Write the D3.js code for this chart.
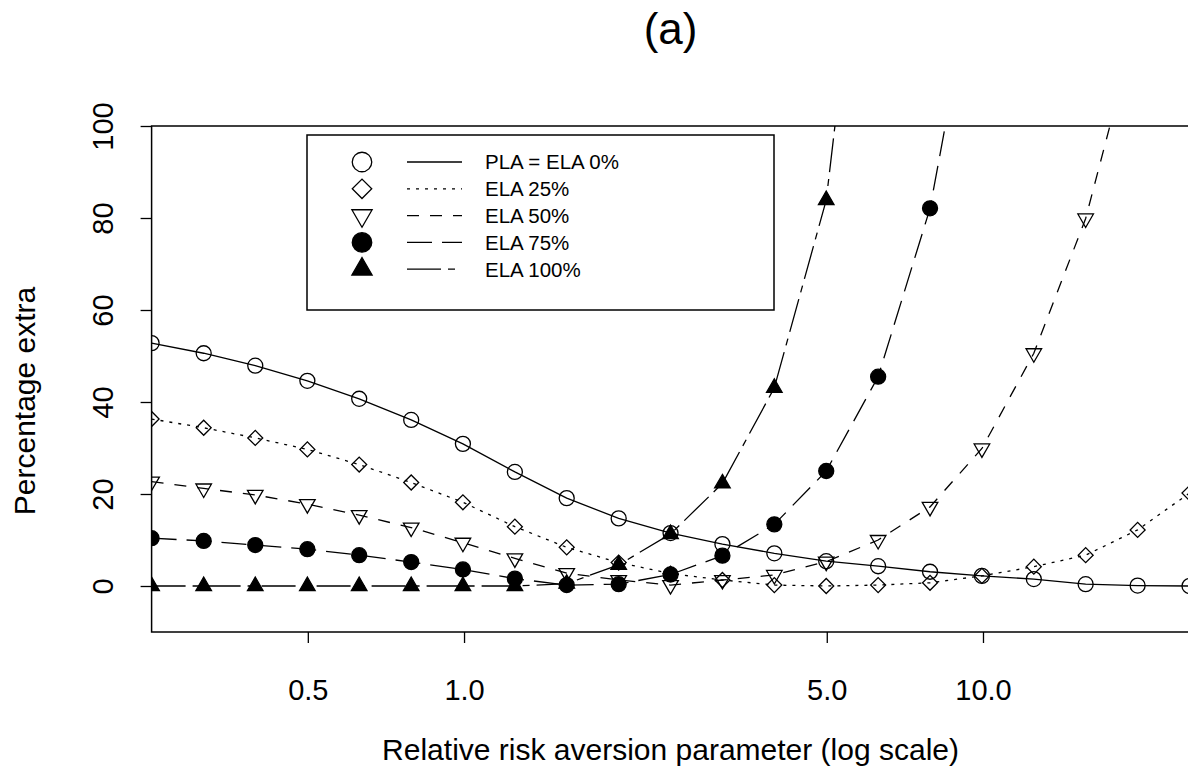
<!DOCTYPE html>
<html>
<head>
<meta charset="utf-8">
<script src="https://cdn.jsdelivr.net/npm/d3@7"></script>
<style>
  body { margin: 0; background: #fff; }
  svg text { font-family: "Liberation Sans", Arial, Helvetica, sans-serif; fill: #000; }
</style>
</head>
<body>
<svg id="chart" width="1188" height="783"></svg>
<script>
/* values */
const riskAversion = [0.25, 0.315, 0.396, 0.499, 0.628, 0.791, 0.995, 1.253, 1.577, 1.986,
  2.5, 3.147, 3.962, 4.988, 6.28, 7.906, 9.953, 12.53, 15.77, 19.86, 25];

const pla0 = [52.8, 50.6, 47.9, 44.6, 40.7, 36.1, 30.9, 24.8, 19.1, 14.7,
  11.5, 9.1, 7.1, 5.4, 4.3, 3.1, 2.2, 1.5, 0.4, 0.1, 0.0];
const ela25 = [36.3, 34.4, 32.2, 29.7, 26.4, 22.5, 18.2, 12.9, 8.4, 5.1,
  2.7, 1.3, 0.2, 0.0, 0.2, 0.7, 2.2, 4.2, 6.7, 12.2, 20.2];
const ela50 = [22.7, 21.2, 19.8, 17.8, 15.4, 12.7, 9.4, 6.0, 2.8, 1.3,
  0.2, 1.3, 2.4, 5.3, 10.0, 17.2, 29.9, 50.6, 79.9, 123];
const ela75 = [10.4, 9.8, 8.9, 8.0, 6.7, 5.2, 3.6, 1.6, 0.2, 0.4,
  2.5, 6.6, 13.4, 25.0, 45.5, 82.1, 143];
const ela100 = [0, 0, 0, 0, 0, 0, 0, 0, 0.5, 4.6,
  11.3, 22.3, 43.1, 83.9, 180];

const seriesNames = ["PLA = ELA 0%", "ELA 25%", "ELA 50%", "ELA 75%", "ELA 100%"];
const xTicks = [0.5, 1, 5, 10];
const yTicks = [0, 20, 40, 60, 80, 100];

const series = [
  {name: seriesNames[0], values: pla0, dash: null, sym: "circle", fill: false},
  {name: seriesNames[1], values: ela25, dash: "3,6", sym: "diamond", fill: false},
  {name: seriesNames[2], values: ela50, dash: "12,11", sym: "tridown", fill: false},
  {name: seriesNames[3], values: ela75, dash: "25,10", sym: "circle", fill: true},
  {name: seriesNames[4], values: ela100, dash: "34,7,7,7", sym: "triup", fill: true}
];

const svg = d3.select('#chart');
const plotLeft = 151.6, plotRight = 1189.5, plotTop = 126, plotBottom = 632;

const x = d3.scaleLog().domain([0.25, 25]).range([plotLeft, plotRight]);
const y = d3.scaleLinear().domain([-10, 100]).range([plotBottom, plotTop]);

svg.append('defs').append('clipPath').attr('id', 'plotclip')
  .append('rect')
  .attr('x', plotLeft).attr('y', plotTop)
  .attr('width', plotRight - plotLeft).attr('height', plotBottom - plotTop);

// symbol path, s = scale factor
function symbolPath(kind, s) {
  if (kind === 'circle') return d3.symbol(d3.symbolCircle, 177 * s * s)();
  if (kind === 'diamond') return d3.symbol(d3.symbolSquare, 112 * s * s)();
  return d3.symbol(d3.symbolTriangle, 105 * s * s)();
}
function symbolRotate(kind) {
  if (kind === 'diamond') return 45;
  if (kind === 'tridown') return 180;
  return 0;
}

function drawSymbol(g, kind, filled, cx, cy, s) {
  g.append('path')
    .attr('d', symbolPath(kind, s))
    .attr('transform', 'translate(' + cx + ',' + cy + ') rotate(' + symbolRotate(kind) + ')')
    .attr('fill', filled ? '#000' : 'none')
    .attr('stroke', '#000')
    .attr('stroke-width', 1.3);
}

const plot = svg.append('g').attr('clip-path', 'url(#plotclip)');

const line = d3.line()
  .x((d, i) => x(riskAversion[i]))
  .y(d => y(d));

series.forEach(function (sr) {
  plot.append('path')
    .datum(sr.values)
    .attr('d', line)
    .attr('fill', 'none')
    .attr('stroke', '#000')
    .attr('stroke-width', 1.3)
    .attr('stroke-dasharray', sr.dash);

  sr.values.forEach(function (v, i) {
    drawSymbol(plot, sr.sym, sr.fill, x(riskAversion[i]), y(v), 1);
  });
});

// box
svg.append('rect')
  .attr('x', plotLeft).attr('y', plotTop)
  .attr('width', plotRight - plotLeft).attr('height', plotBottom - plotTop)
  .attr('fill', 'none')
  .attr('stroke', '#000')
  .attr('stroke-width', 1.5);

// x axis
const xAxis = svg.append('g')
  .attr('transform', 'translate(0,' + plotBottom + ')')
  .call(d3.axisBottom(x).tickValues(xTicks).tickFormat(d3.format('.1f'))
    .tickSize(11).tickPadding(36));
xAxis.select('.domain').remove();
xAxis.selectAll('line').attr('stroke', '#000').attr('stroke-width', 1.3);
xAxis.selectAll('text').attr('font-size', 29).attr('fill', '#000')
  .attr('font-family', '"Liberation Sans", Arial, sans-serif');

// y axis, labels parallel to the axis
const yAxis = svg.append('g')
  .attr('transform', 'translate(' + plotLeft + ',0)')
  .call(d3.axisLeft(y).tickValues(yTicks).tickFormat(d3.format('d')).tickSize(11));
yAxis.select('.domain').remove();
yAxis.selectAll('line').attr('stroke', '#000').attr('stroke-width', 1.3);
yAxis.selectAll('text')
  .attr('font-size', 29).attr('fill', '#000')
  .attr('font-family', '"Liberation Sans", Arial, sans-serif')
  .attr('x', null).attr('dy', null).attr('y', null)
  .attr('text-anchor', 'middle')
  .attr('transform', 'translate(-39,0) rotate(-90)');

// titles
svg.append('text')
  .attr('x', (plotLeft + plotRight) / 2).attr('y', 44)
  .attr('text-anchor', 'middle')
  .attr('font-size', 44)
  .text('(a)');

svg.append('text')
  .attr('x', (plotLeft + plotRight) / 2).attr('y', 760)
  .attr('text-anchor', 'middle')
  .attr('font-size', 30)
  .text('Relative risk aversion parameter (log scale)');

svg.append('text')
  .attr('transform', 'translate(35,' + ((plotTop + plotBottom) / 2 + 22) + ') rotate(-90)')
  .attr('text-anchor', 'middle')
  .attr('font-size', 30)
  .text('Percentage extra');

// legend
const legend = svg.append('g');
legend.append('rect')
  .attr('x', 307).attr('y', 135)
  .attr('width', 467).attr('height', 175)
  .attr('fill', '#fff')
  .attr('stroke', '#000')
  .attr('stroke-width', 1.5);

series.forEach(function (sr, i) {
  const ly = 162 + i * 26.8;
  drawSymbol(legend, sr.sym, sr.fill, 362, ly, 1.3);
  legend.append('line')
    .attr('x1', 407).attr('x2', 462)
    .attr('y1', ly).attr('y2', ly)
    .attr('stroke', '#000')
    .attr('stroke-width', 1.3)
    .attr('stroke-dasharray', sr.dash);
  legend.append('text')
    .attr('x', 485).attr('y', ly)
    .attr('dy', '0.36em')
    .attr('font-size', 20.5)
    .text(sr.name);
});
</script>
</body>
</html>
